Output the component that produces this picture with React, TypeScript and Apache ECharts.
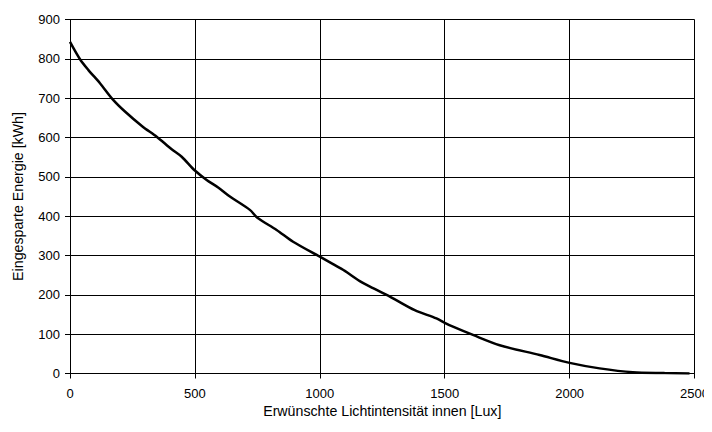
import React, { useEffect, useRef } from "react";
import * as echarts from "echarts";

const luxValues = [0, 40, 73, 120, 171, 220, 290, 347, 407, 447, 500, 547, 593, 640, 720, 750, 827, 893, 1000, 1053, 1100, 1160, 1213, 1293, 1380, 1467, 1500, 1533, 1613, 1720, 1880, 2000, 2120, 2253, 2380, 2480];
const energyValues = [843, 799, 772, 738, 697, 666, 628, 602, 570, 551, 516, 492, 473, 450, 416, 396, 365, 335, 297, 278, 261, 235, 217, 191, 161, 140, 129, 119, 98, 72, 47, 27, 13, 3, 1, 0];

const xTitle = "Erwünschte Lichtintensität innen [Lux]";
const yTitle = "Eingesparte Energie [kWh]";

export default function App() {
  const ref = useRef<HTMLDivElement>(null);
  useEffect(() => {
    if (!ref.current) return;
    const chart = echarts.init(ref.current, undefined, { renderer: "svg" });
    const font = "Liberation Sans, Arial, sans-serif";
    chart.setOption({
      animation: false,
      backgroundColor: "#ffffff",
      grid: { left: 70, right: 17, top: 19.5, bottom: 58.5, containLabel: false },
      xAxis: {
        type: "value",
        min: 0,
        max: 2500,
        interval: 500,
        name: xTitle,
        nameLocation: "middle",
        nameGap: 26.5,
        nameTextStyle: { color: "#000", fontSize: 14.2, fontFamily: font },
        axisLine: { show: true, lineStyle: { color: "#000", width: 1 } },
        axisTick: { show: true, length: 5, inside: false, lineStyle: { color: "#000" } },
        axisLabel: { color: "#000", fontSize: 13, fontFamily: font, margin: 13, formatter: (v: number) => String(v) },
        splitLine: { show: true, lineStyle: { color: "#000", width: 1 } },
      },
      yAxis: {
        type: "value",
        min: 0,
        max: 900,
        interval: 100,
        name: yTitle,
        nameLocation: "middle",
        nameGap: 45,
        nameTextStyle: { color: "#000", fontSize: 14.2, fontFamily: font },
        axisLine: { show: true, lineStyle: { color: "#000", width: 1 } },
        axisTick: { show: true, length: 5, inside: false, lineStyle: { color: "#000" } },
        axisLabel: { color: "#000", fontSize: 13, fontFamily: font, margin: 10, formatter: (v: number) => String(v) },
        splitLine: { show: true, lineStyle: { color: "#000", width: 1 } },
      },
      series: [
        {
          type: "line",
          data: luxValues.map((x, i) => [x, energyValues[i]]),
          showSymbol: false,
          symbol: "none",
          smooth: 0.3,
          lineStyle: { color: "#000", width: 2.5 },
        },
      ],
    });
    return () => chart.dispose();
  }, []);
  return <div ref={ref} style={{ width: 712, height: 432, margin: -8 }} />;
}
